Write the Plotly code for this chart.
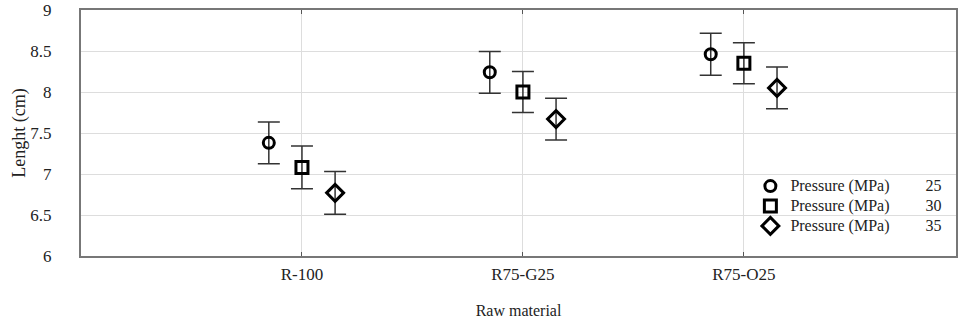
import plotly.graph_objects as go

categories = ["R-100", "R75-G25", "R75-O25"]
pressures = ["25", "30", "35"]
# mean lengths (cm) per pressure, per category
len_25 = [7.38, 8.24, 8.46]
len_30 = [7.08, 8.00, 8.35]
len_35 = [6.77, 7.67, 8.05]
err_25 = [0.255, 0.255, 0.255]
err_30 = [0.26, 0.25, 0.25]
err_35 = [0.26, 0.255, 0.255]
y_ticks = [6, 6.5, 7, 7.5, 8, 8.5, 9]

series = [
    (pressures[0], len_25, err_25, "circle-open", 11, -0.15),
    (pressures[1], len_30, err_30, "square-open", 12, 0.0),
    (pressures[2], len_35, err_35, "diamond-open", 13, 0.15),
]

FONT = "Liberation Serif"
TXT = "#222222"
fig = go.Figure()
base = list(range(1, len(categories) + 1))
for p, vals, errs, sym, size, off in series:
    fig.add_trace(go.Scatter(
        x=[b + off for b in base], y=vals, mode="markers",
        name=('<span style="font-family:Liberation Serif;font-size:16px">Pressure (MPa)'
              + "\u00a0" * 9 + p + "</span>"),
        marker=dict(symbol=sym, size=size, color="black", line=dict(width=3, color="black")),
        error_y=dict(type="data", array=errs, visible=True, color="#333333",
                     thickness=1.5, width=11),
    ))

fig.update_layout(
    width=958, height=322,
    margin=dict(l=81, r=2, t=10, b=66),
    paper_bgcolor="white", plot_bgcolor="white",
    font=dict(family=FONT, size=14, color=TXT),
    showlegend=True,
    legend=dict(x=0.765, y=0.345, xanchor="left", yanchor="top",
                bgcolor="rgba(0,0,0,0)", font=dict(family=FONT, size=13, color=TXT),
                tracegroupgap=0, itemwidth=30),
    xaxis=dict(range=[0, 3.96], tickvals=base, ticktext=categories, automargin=False,
               showgrid=True, gridcolor="#dddddd", gridwidth=1,
               showline=True, linecolor="#777777", linewidth=2, mirror="ticks",
               ticks="inside", ticklen=4, tickcolor="#555", zeroline=False,
               ticklabelstandoff=2,
               tickfont=dict(family=FONT, size=17, color=TXT),
               title=dict(text="Raw material", font=dict(family=FONT, size=16, color=TXT), standoff=21)),
    yaxis=dict(range=[6, 9], tickvals=y_ticks, ticktext=[f"{v:g}" for v in y_ticks], automargin=False,
               showgrid=True, gridcolor="#dddddd", gridwidth=1,
               showline=True, linecolor="#777777", linewidth=2, mirror=True,
               ticks="", zeroline=False, ticklabelstandoff=24,
               tickfont=dict(family=FONT, size=17, color=TXT),
               title=dict(text="Lenght (cm)", font=dict(family=FONT, size=18, color=TXT), standoff=0)),
)

post = ("document.body.style.margin='0';document.body.style.overflow='hidden';"
        "var gd=document.getElementById('{plot_id}');Plotly.relayout(gd,{width:958,height:322});")
fig.write_html("out.html", post_script=post, config={"responsive": False, "displayModeBar": False})
